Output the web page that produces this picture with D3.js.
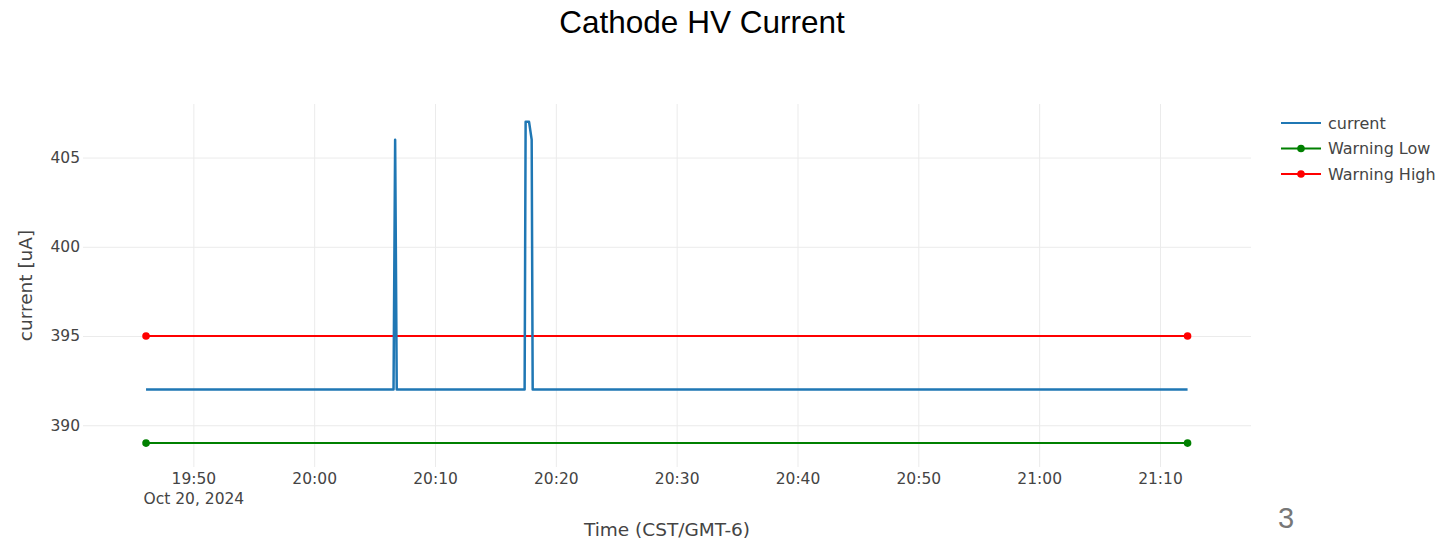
<!DOCTYPE html>
<html>
<head>
<meta charset="utf-8">
<script src="https://cdn.jsdelivr.net/npm/d3@7"></script>
<style>
  body { margin: 0; background: #fff; }
  svg { display: block; }
</style>
</head>
<body>
<svg id="chart"></svg>
<script>
// current trace: breakpoints
const currentTimes = [
  "2024-10-20 19:46:05",
  "2024-10-20 20:06:34",
  "2024-10-20 20:06:42",
  "2024-10-20 20:06:50",
  "2024-10-20 20:17:25",
  "2024-10-20 20:17:30",
  "2024-10-20 20:17:47",
  "2024-10-20 20:18:00",
  "2024-10-20 20:18:05",
  "2024-10-20 21:12:17"
];
const currentValues = [392, 392, 406, 392, 392, 407, 407, 406, 392, 392];

const warnTimes = ["2024-10-20 19:46:05", "2024-10-20 21:12:17"];
const warnLowValues = [389, 389];
const warnHighValues = [395, 395];

const yTicks = [390, 395, 400, 405];
const legendNames = ["current", "Warning Low", "Warning High"];

const width = 1454, height = 540;
const margin = {top: 104, right: 203, bottom: 73, left: 83};
const plotW = width - margin.left - margin.right;
const plotH = height - margin.top - margin.bottom;

const parse = d3.timeParse("%Y-%m-%d %H:%M:%S");
const current = currentTimes.map((t, i) => ({t: parse(t), v: currentValues[i]}));
const low = warnTimes.map((t, i) => ({t: parse(t), v: warnLowValues[i]}));
const high = warnTimes.map((t, i) => ({t: parse(t), v: warnHighValues[i]}));

const x = d3.scaleTime()
    .domain([parse("2024-10-20 19:40:52"), parse("2024-10-20 21:17:32")])
    .range([0, plotW]);
const y = d3.scaleLinear()
    .domain([387.66, 408])
    .range([plotH, 0]);

const svg = d3.select("#chart")
    .attr("width", width)
    .attr("height", height);

const tickFont = "'DejaVu Sans', Verdana, sans-serif";

// title
svg.append("text")
    .attr("x", 702)
    .attr("y", 33)
    .attr("text-anchor", "middle")
    .style("font-family", "'Liberation Sans', Helvetica, Arial, sans-serif")
    .style("font-size", "31.5px")
    .attr("fill", "#000")
    .text("Cathode HV Current");

const g = svg.append("g")
    .attr("transform", `translate(${margin.left},${margin.top})`);

// x axis + vertical grid
const xTicks = x.ticks(d3.timeMinute.every(10));
const fmt = d3.timeFormat("%H:%M");
const xAxis = g.append("g")
    .attr("transform", `translate(0,${plotH})`)
    .call(d3.axisBottom(x).tickValues(xTicks).tickFormat(fmt).tickSize(-plotH).tickPadding(6));
xAxis.select(".domain").remove();
xAxis.selectAll(".tick line").attr("stroke", "#ebebeb");
xAxis.selectAll(".tick text")
    .attr("fill", "#444")
    .style("font-family", tickFont)
    .style("font-size", "15.5px");
xAxis.selectAll(".tick").filter((d, i) => i === 0)
    .select("text")
    .append("tspan")
    .attr("x", 0)
    .attr("dy", "1.3em")
    .text(d3.timeFormat("%b %-d, %Y")(xTicks[0]));

// y axis + horizontal grid
const yAxis = g.append("g")
    .call(d3.axisLeft(y).tickValues(yTicks).tickSize(-plotW).tickPadding(3));
yAxis.select(".domain").remove();
yAxis.selectAll(".tick line").attr("stroke", "#ebebeb");
yAxis.selectAll(".tick text")
    .attr("fill", "#444")
    .style("font-family", tickFont)
    .style("font-size", "15.5px");

// axis titles
svg.append("text")
    .attr("x", margin.left + plotW / 2)
    .attr("y", 536)
    .attr("text-anchor", "middle")
    .attr("fill", "#444")
    .style("font-family", tickFont)
    .style("font-size", "18.5px")
    .text("Time (CST/GMT-6)");

svg.append("text")
    .attr("transform", `translate(32,${margin.top + plotH / 2}) rotate(-90)`)
    .attr("text-anchor", "middle")
    .attr("fill", "#444")
    .style("font-family", tickFont)
    .style("font-size", "18.5px")
    .text("current [uA]");

// lines
const line = d3.line().x(d => x(d.t)).y(d => y(d.v));

g.append("path").datum(low)
    .attr("d", line).attr("fill", "none")
    .attr("stroke", "green").attr("stroke-width", 2);
g.selectAll(".lowpt").data(low).join("circle")
    .attr("cx", d => x(d.t)).attr("cy", d => y(d.v)).attr("r", 3.8)
    .attr("fill", "green");

g.append("path").datum(high)
    .attr("d", line).attr("fill", "none")
    .attr("stroke", "red").attr("stroke-width", 2);
g.selectAll(".highpt").data(high).join("circle")
    .attr("cx", d => x(d.t)).attr("cy", d => y(d.v)).attr("r", 3.8)
    .attr("fill", "red");

g.append("path").datum(current)
    .attr("d", line).attr("fill", "none")
    .attr("stroke", "#1f77b4").attr("stroke-width", 2.5)
    .attr("stroke-linejoin", "round");

// legend
const legendColors = ["#1f77b4", "green", "red"];
const leg = svg.append("g").attr("transform", "translate(1281,123)");
const items = leg.selectAll("g").data(legendNames).join("g")
    .attr("transform", (d, i) => `translate(0,${i * 25.5})`);
items.append("line")
    .attr("x1", 0).attr("x2", 40)
    .attr("stroke", (d, i) => legendColors[i]).attr("stroke-width", 2);
items.filter((d, i) => i > 0).append("circle")
    .attr("cx", 20).attr("r", 3.8)
    .attr("fill", (d, i) => legendColors[i + 1]);
items.append("text")
    .attr("x", 47).attr("dy", "0.35em")
    .attr("fill", "#444")
    .style("font-family", tickFont)
    .style("font-size", "16px")
    .text(d => d);

// page number
svg.append("text")
    .attr("x", 1286).attr("y", 528)
    .attr("text-anchor", "middle")
    .attr("fill", "#777")
    .style("font-family", "'Liberation Sans', Helvetica, Arial, sans-serif")
    .style("font-size", "29px")
    .text("3");
</script>
</body>
</html>
